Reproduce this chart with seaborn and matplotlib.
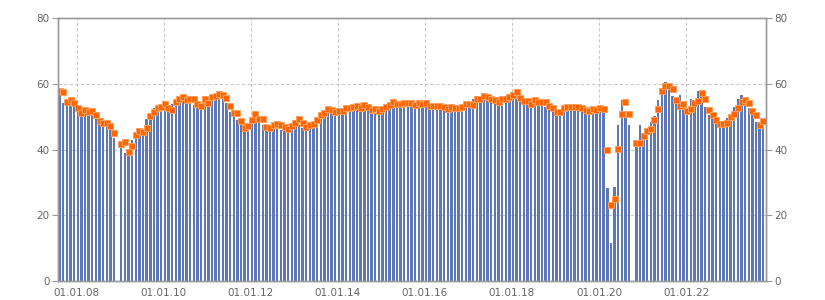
import numpy as np
import pandas as pd
import matplotlib
matplotlib.use("Agg")
import matplotlib.pyplot as plt
import seaborn as sns

# ---- data -------------------------------------------------------------
months = pd.date_range("2007-08-01", periods=195, freq="MS")

bar_values = [
    58.1, 54.0, 55.5, 54.0, 53.5, 52.7, 52.5, 52.3, 51.7, 51.0,
    50.7, 49.4, 48.4, 47.4, 47.4, 43.4, np.nan, 42.5, 38.8, 39.8,
    42.8, 43.9, 44.6, 45.4, 49.4, 51.0, 52.5, 53.0, 52.5, 52.3,
    51.5, 53.7, 55.3, 55.5, 55.5, 54.0, 55.5, 53.5, 53.0, 53.0,
    55.3, 55.0, 57.0, 56.3, 56.5, 55.3, 54.0, 51.5, 51.0, 49.0,
    47.4, 46.9, 48.2, 48.4, 50.5, 49.5, 47.6, 46.4, 45.9, 46.4,
    46.9, 45.9, 46.4, 45.4, 47.6, 47.4, 47.6, 46.4, 46.2, 46.9,
    48.4, 49.4, 51.0, 52.0, 51.7, 51.3, 50.7, 51.7, 51.0, 52.0,
    52.5, 52.5, 52.7, 54.0, 52.5, 53.0, 51.5, 52.0, 51.3, 51.5,
    52.5, 53.5, 54.0, 53.5, 53.0, 53.7, 53.5, 53.5, 53.0, 53.5,
    53.7, 53.5, 53.0, 53.3, 53.0, 53.0, 52.7, 52.5, 52.7, 53.0,
    53.0, 53.5, 54.0, 54.0, 55.5, 56.4, 56.0, 56.5, 54.7, 56.0,
    55.3, 55.0, 55.5, 55.0, 55.7, 57.0, 57.5, 56.0, 53.7, 55.0,
    53.5, 54.0, 53.5, 53.3, 53.0, 52.5, 51.5, 50.7, 50.7, 52.0,
    52.7, 53.0, 52.7, 53.3, 53.0, 52.7, 51.2, 52.5, 52.0, 53.0,
    53.0, 28.3, 11.5, 28.7, 47.4, 55.0, 50.2, 47.4, np.nan, 42.6,
    47.4, 44.9, 46.4, 48.4, 50.2, 55.0, 58.6, 60.6, 60.1, 56.3,
    55.6, 56.6, 52.5, 52.0, 55.5, 55.0, 57.8, 57.0, 53.0, 50.5,
    49.5, 48.4, 47.9, 47.6, 49.5, 50.7, 53.0, 55.5, 56.5, 54.5,
    52.5, 51.0, 48.4, 47.6, 48.2,
]

point_values = [
    57.8, 57.5, 54.5, 55.0, 54.0, 52.7, 51.0, 52.0, 51.5, 51.7,
    50.5, 48.7, 48.0, 48.0, 47.0, 45.0, np.nan, 41.6, 42.3, 39.1,
    41.0, 44.4, 45.7, 45.2, 46.4, 50.2, 51.5, 52.7, 53.0, 53.8,
    52.5, 52.0, 54.5, 55.3, 56.0, 55.0, 55.5, 55.3, 53.7, 53.2,
    55.3, 54.2, 56.0, 56.3, 57.0, 56.6, 55.6, 53.2, 51.2, 51.2,
    48.7, 46.5, 47.1, 49.1, 50.7, 49.4, 49.4, 46.9, 46.6, 47.4,
    47.8, 47.6, 46.8, 46.3, 47.1, 48.1, 49.4, 48.1, 46.8, 47.4,
    47.8, 49.1, 50.4, 51.2, 52.2, 51.9, 51.5, 51.6, 51.7, 52.5,
    52.7, 52.8, 53.2, 52.7, 53.5, 53.0, 52.0, 52.3, 51.7, 52.2,
    53.0, 53.5, 54.3, 53.7, 53.7, 54.0, 54.0, 54.0, 53.5, 54.0,
    53.8, 54.0, 53.3, 53.2, 53.2, 53.2, 53.0, 52.3, 53.0, 52.7,
    52.5, 52.8, 53.7, 53.7, 53.5, 55.4, 55.5, 56.3, 56.0, 55.3,
    55.0, 54.5, 55.5, 55.5, 56.0, 56.5, 57.6, 55.7, 54.7, 54.7,
    53.7, 55.0, 54.3, 54.3, 54.3, 53.3, 52.5, 51.3, 51.3, 52.5,
    52.8, 52.8, 52.8, 53.0, 52.5, 52.0, 51.8, 52.3, 52.0, 52.7,
    52.3, 40.0, 23.1, 24.8, 40.3, 50.8, 54.5, 50.8, np.nan, 42.0,
    41.9, 44.2, 45.7, 46.1, 48.9, 52.3, 57.9, 59.3, 59.4, 58.3,
    55.2, 53.3, 53.9, 51.8, 52.2, 54.2, 54.8, 57.2, 55.5, 52.0,
    50.5, 48.9, 47.9, 47.9, 48.2, 49.9, 50.9, 52.5, 54.5, 55.2,
    54.2, 51.7, 50.5, 47.6, 48.6,
]

tick_dates = ["2008-01-01", "2010-01-01", "2012-01-01", "2014-01-01",
              "2016-01-01", "2018-01-01", "2020-01-01", "2022-01-01"]
tick_labels = ["01.01.08", "01.01.10", "01.01.12", "01.01.14",
               "01.01.16", "01.01.18", "01.01.20", "01.01.22"]
y_ticks = [0, 20, 40, 60, 80]

# ---- figure -----------------------------------------------------------
df = pd.DataFrame({"pos": np.arange(len(months)), "month": months,
                   "bar": bar_values, "point": point_values})

sns.set_style("white")
plt.rcParams["font.family"] = ["DejaVu Sans"]

BAR = "#5e77b5"
ORANGE = "#ff6600"
SPINE = "#9a9a9a"
GRID = "#c9c9c9"
TXT = "#666666"

fig = plt.figure(figsize=(8.25, 3.0), dpi=100)
ax = fig.add_axes([58 / 825, 19 / 300, 708 / 825, 263 / 300])

sns.barplot(data=df.dropna(subset=["bar"]), x="pos", y="bar",
            native_scale=True, width=0.66, color=BAR, saturation=1,
            errorbar=None, ax=ax, zorder=2, linewidth=0)
sns.scatterplot(data=df.dropna(subset=["point"]), x="pos", y="point",
                marker="s", s=22, color=ORANGE, edgecolor="#ff9d5c",
                linewidth=0.7, ax=ax, zorder=3, legend=False)

ax.set_xlim(-0.45, 194.75)
ax.set_ylim(0, 80)
tick_pos = [df.index[df["month"] == pd.Timestamp(d)][0] - 0.3 for d in tick_dates]
ax.set_xticks(tick_pos)
ax.set_xticklabels(tick_labels)
ax.set_yticks(y_ticks)
ax.set_xlabel("")
ax.set_ylabel("")

ax.grid(True, axis="both", color=GRID, linestyle=(0, (3, 2)), linewidth=0.8)
ax.set_axisbelow(True)
for s in ax.spines.values():
    s.set_color(SPINE)
    s.set_linewidth(1.0)
ax.tick_params(axis="both", colors=SPINE, labelcolor=TXT, labelsize=7.5,
               length=4, width=0.8, pad=2)
ax.tick_params(axis="x", length=3)

ax2 = ax.twinx()
ax2.set_ylim(0, 80)
ax2.set_yticks(y_ticks)
ax2.grid(False)
for s in ax2.spines.values():
    s.set_color(SPINE)
    s.set_linewidth(1.0)
ax2.tick_params(axis="y", colors=SPINE, labelcolor=TXT, labelsize=7.5,
                length=4, width=0.8, pad=2)

fig.savefig("out.png", dpi=100)
